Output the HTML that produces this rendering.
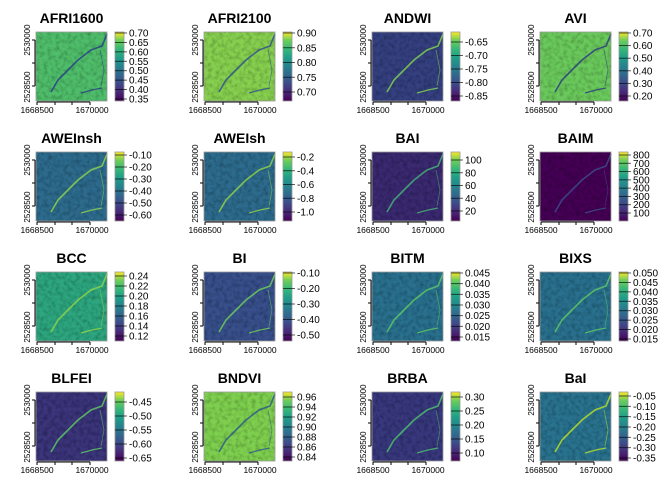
<!DOCTYPE html>
<html><head><meta charset="utf-8"><style>
html,body{margin:0;padding:0;background:#fff;}
svg text{font-family:"Liberation Sans",Arial,sans-serif;}
</style></head><body>
<svg id="s" width="672" height="480" xmlns="http://www.w3.org/2000/svg">
<defs>
<linearGradient id="vir" x1="0" y1="1" x2="0" y2="0">
<stop offset="0" stop-color="#440154"/><stop offset="0.13" stop-color="#482878"/>
<stop offset="0.25" stop-color="#3e4989"/><stop offset="0.38" stop-color="#31688e"/>
<stop offset="0.5" stop-color="#26828e"/><stop offset="0.63" stop-color="#1f9e89"/>
<stop offset="0.75" stop-color="#35b779"/><stop offset="0.88" stop-color="#6ece58"/>
<stop offset="1" stop-color="#fde725"/>
</linearGradient>
<filter id="tex" x="0" y="0" width="100%" height="100%">
<feTurbulence type="fractalNoise" baseFrequency="0.25" numOctaves="2" seed="3" result="n"/>
<feColorMatrix in="n" type="matrix" values="0 0 0 0 0  0 0 0 0 0  0 0 0 0 0  0 0 0 0.9 -0.35" result="a"/>
<feComposite in="a" in2="SourceGraphic" operator="in" result="d"/>
<feMerge><feMergeNode in="SourceGraphic"/><feMergeNode in="d"/></feMerge>
</filter>
</defs>
</svg>
<script>
var P=[
["AFRI1600","#4fbd6a","#2a3f86",["0.70","0.65","0.60","0.55","0.50","0.45","0.40","0.35"],33,99],
["AFRI2100","#86cf50","#31518c",["0.90","0.85","0.80","0.75","0.70"],33,92],
["ANDWI","#34407f","#7fd04f",["-0.65","-0.70","-0.75","-0.80","-0.85"],42,96],
["AVI","#6bc95c","#2f3d80",["0.70","0.60","0.50","0.40","0.30","0.20"],33,96],
["AWEInsh","#2d6a8c","#8ed14b",["-0.10","-0.20","-0.30","-0.40","-0.50","-0.60"],35,95],
["AWEIsh","#2d6a8c","#8ed14b",["-0.2","-0.4","-0.6","-0.8","-1.0"],37,92],
["BAI","#3a2a70","#45b07a",["100","80","60","40","20"],40,91],
["BAIM","#440154","#3e4a89",["800","700","600","500","400","300","200","100"],35,93],
["BCC","#2ea57e","#8ed14b",["0.24","0.22","0.20","0.18","0.16","0.14","0.12"],36,96],
["BI","#39508a","#6ecb5a",["-0.10","-0.20","-0.30","-0.40","-0.50"],33,95],
["BITM","#2b6f8d","#5ec665",["0.045","0.040","0.035","0.030","0.025","0.020","0.015"],33,97],
["BIXS","#2b6f8d","#5ec665",["0.050","0.045","0.040","0.035","0.030","0.025","0.020","0.015"],33,99],
["BLFEI","#3a3479","#5ec665",["-0.45","-0.50","-0.55","-0.60","-0.65"],42,98],
["BNDVI","#7ecf50","#2e5a8b",["0.96","0.94","0.92","0.90","0.88","0.86","0.84"],37,97],
["BRBA","#38397d","#4fbe6c",["0.30","0.25","0.20","0.15","0.10"],37,93],
["BaI","#2a728e","#b5de2b",["-0.05","-0.10","-0.15","-0.20","-0.25","-0.30","-0.35"],36,98]
];
var s=document.getElementById('s'),h='';
P.forEach(function(p,i){
 var ox=168*(i%4),oy=120*Math.floor(i/4),mx=ox+36,my=oy+32,W=71,H=69;
 h+='<text x="'+(mx+W/2)+'" y="'+(oy+23)+'" font-size="14" font-weight="bold" text-anchor="middle">'+p[0]+'</text>';
 h+='<rect x="'+mx+'" y="'+my+'" width="'+W+'" height="'+H+'" fill="'+p[1]+'" filter="url(#tex)"/>';
 var r=p[2];
 h+='<path d="M'+(mx+71)+' '+(my+2)+' L'+(mx+66)+' '+(my+14)+' L'+(mx+55)+' '+(my+18)+' L'+(mx+42)+' '+(my+28)+' L'+(mx+30)+' '+(my+40)+' L'+(mx+22)+' '+(my+48)+' L'+(mx+15)+' '+(my+60)+'" stroke="'+r+'" stroke-width="1.6" fill="none" opacity="0.85"/>';
 h+='<path d="M'+(mx+45)+' '+(my+61)+' L'+(mx+56)+' '+(my+58)+' L'+(mx+66)+' '+(my+56)+'" stroke="'+r+'" stroke-width="1.2" fill="none" opacity="0.85"/>';
 h+='<path d="M'+(mx+64)+' '+(my+18)+' L'+(mx+68)+' '+(my+38)+' L'+(mx+65)+' '+(my+54)+'" stroke="'+r+'" stroke-width="0.8" fill="none" opacity="0.6"/>';
 h+='<rect x="'+mx+'" y="'+my+'" width="'+W+'" height="'+H+'" fill="none" stroke="#999" stroke-width="0.8"/>';
 h+='<path d="M'+(mx-1)+' '+(my+8)+' V'+(my+54)+' M'+(mx-4)+' '+(my+8)+' H'+(mx-1)+' M'+(mx-4)+' '+(my+31)+' H'+(mx-1)+' M'+(mx-4)+' '+(my+54)+' H'+(mx-1)+'" stroke="#000" stroke-width="1" fill="none"/>';
 h+='<path d="M'+(mx+1)+' '+(my+H+1)+' H'+(mx+54)+' M'+(mx+1)+' '+(my+H+1)+' v3 M'+(mx+19)+' '+(my+H+1)+' v3 M'+(mx+36)+' '+(my+H+1)+' v3 M'+(mx+54)+' '+(my+H+1)+' v3" stroke="#000" stroke-width="1" fill="none"/>';
 h+='<text x="'+(mx+1)+'" y="'+(my+H+12)+'" font-size="8.5" text-anchor="middle">1668500</text>';
 h+='<text x="'+(mx+56)+'" y="'+(my+H+12)+'" font-size="8.5" text-anchor="middle">1670000</text>';
 h+='<text transform="translate('+(mx-6)+','+(my+8)+') rotate(-90)" font-size="8" text-anchor="middle">2530000</text>';
 h+='<text transform="translate('+(mx-6)+','+(my+55)+') rotate(-90)" font-size="8" text-anchor="middle">2528500</text>';
 var cx=ox+115;
 h+='<rect x="'+cx+'" y="'+my+'" width="9" height="'+H+'" fill="url(#vir)" stroke="#999" stroke-width="0.8"/>';
 var L=p[3],t0=oy+p[4],t1=oy+p[5];
 L.forEach(function(l,k){var y=t0+(t1-t0)*k/(L.length-1);
  h+='<line x1="'+cx+'" x2="'+(cx+12)+'" y1="'+y+'" y2="'+y+'" stroke="#000" stroke-width="0.9" opacity="0.7"/>';
  h+='<text x="'+(cx+14)+'" y="'+(y+3.5)+'" font-size="10">'+l+'</text>';});
});
s.insertAdjacentHTML('beforeend',h);
</script>
</body></html>
